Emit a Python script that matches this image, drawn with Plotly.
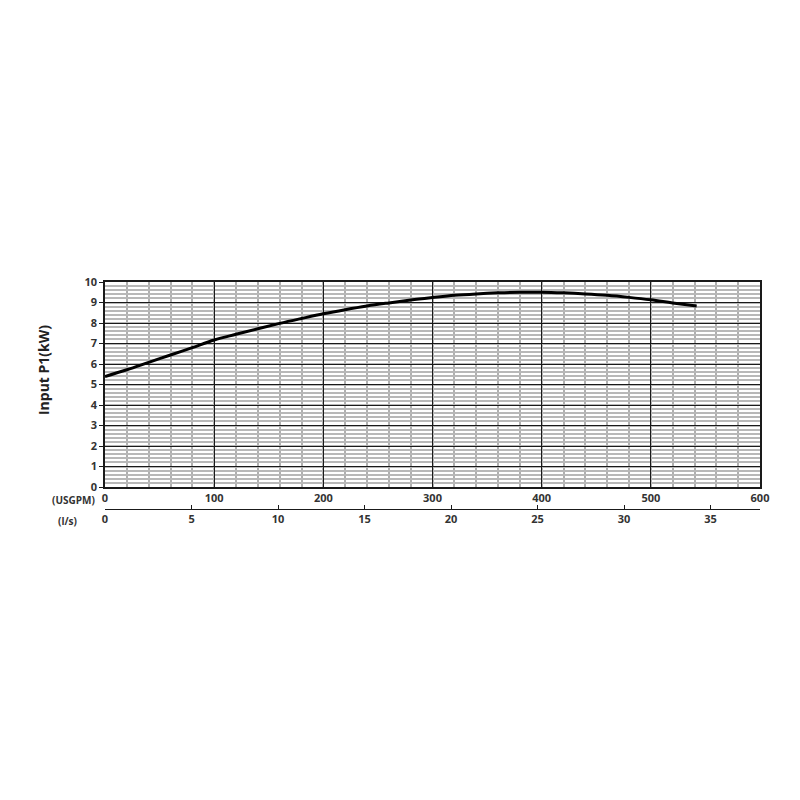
import plotly.graph_objects as go

# flow (USGPM) vs input power P1 (kW)
flow_usgpm = [0, 20, 40, 60, 80, 100, 120, 140, 160, 180, 200, 220, 240, 260, 280, 300,
              320, 340, 360, 380, 400, 420, 440, 460, 480, 500, 520, 542]
power_kw = [5.39, 5.72, 6.08, 6.44, 6.80, 7.17, 7.45, 7.72, 7.98, 8.22, 8.45, 8.65, 8.83,
            8.98, 9.12, 9.24, 9.35, 9.42, 9.47, 9.50, 9.50, 9.47, 9.42, 9.35, 9.25, 9.13,
            8.98, 8.83]

usgpm_ticks = [0, 100, 200, 300, 400, 500, 600]
ls_ticks = [0, 5, 10, 15, 20, 25, 30, 35]
kw_ticks = [0, 1, 2, 3, 4, 5, 6, 7, 8, 9, 10]

USGPM_TO_LS = 0.0630902

tick_font = dict(family="Open Sans", size=11, color="#333333", weight="bold")

fig = go.Figure()

fig.add_trace(go.Scatter(
    x=flow_usgpm,
    y=power_kw,
    mode="lines",
    line=dict(color="black", width=3, shape="spline"),
    showlegend=False,
))

# dummy trace so the l/s axis gets drawn
fig.add_trace(go.Scatter(
    x=[0, 600 * USGPM_TO_LS],
    y=[0, 0],
    xaxis="x2",
    mode="lines",
    line=dict(width=0),
    hoverinfo="skip",
    showlegend=False,
))

# page body adds ~8px, so margins are shifted to compensate
fig.update_layout(
    width=800,
    height=800,
    paper_bgcolor="white",
    plot_bgcolor="white",
    margin=dict(l=97, r=48, t=274, b=299, autoexpand=False),
    xaxis=dict(
        range=[0, 600],
        tickvals=usgpm_ticks,
        tickfont=tick_font,
        showgrid=True,
        gridcolor="#1a1a1a",
        gridwidth=1.4,
        minor=dict(dtick=20, showgrid=True, gridcolor="#b0b0b0", gridwidth=1.8),
        showline=True,
        linecolor="#1a1a1a",
        linewidth=1.5,
        mirror=True,
        zeroline=False,
        anchor="y",
        ticks="",
        automargin=False,
    ),
    xaxis2=dict(
        range=[0, 600 * USGPM_TO_LS],
        tickvals=ls_ticks,
        tickfont=tick_font,
        overlaying="x",
        anchor="free",
        position=0,
        side="bottom",
        showgrid=False,
        showline=True,
        linecolor="#1a1a1a",
        linewidth=1.2,
        ticks="inside",
        ticklen=4,
        tickcolor="#1a1a1a",
        zeroline=False,
        automargin=False,
    ),
    yaxis=dict(
        domain=[0.0969, 1],
        range=[0, 10],
        tickvals=kw_ticks,
        tickfont=tick_font,
        showgrid=True,
        gridcolor="#1a1a1a",
        gridwidth=1.4,
        minor=dict(dtick=0.2, showgrid=True, gridcolor="#b8b8b8", gridwidth=1.5),
        showline=True,
        linecolor="#1a1a1a",
        linewidth=1.5,
        mirror=True,
        zeroline=False,
        ticks="outside",
        ticklen=4,
        tickcolor="#1a1a1a",
        automargin=False,
    ),
    annotations=[
        dict(text="Input P1(kW)", xref="paper", yref="paper",
             x=-0.0947, y=0.612, textangle=-90, showarrow=False,
             xanchor="center", yanchor="middle",
             font=dict(family="Open Sans", size=14, color="#222222", weight="bold")),
        dict(text="(USGPM)", xref="paper", yref="paper",
             x=-0.012, y=0.04, showarrow=False,
             xanchor="right", yanchor="middle",
             font=dict(family="Open Sans", size=10, color="#333333", weight="bold")),
        dict(text="(l/s)", xref="paper", yref="paper",
             x=-0.04, y=-0.053, showarrow=False,
             xanchor="right", yanchor="middle",
             font=dict(family="Open Sans", size=10, color="#333333", weight="bold")),
    ],
)

fig.write_html("out.html")
